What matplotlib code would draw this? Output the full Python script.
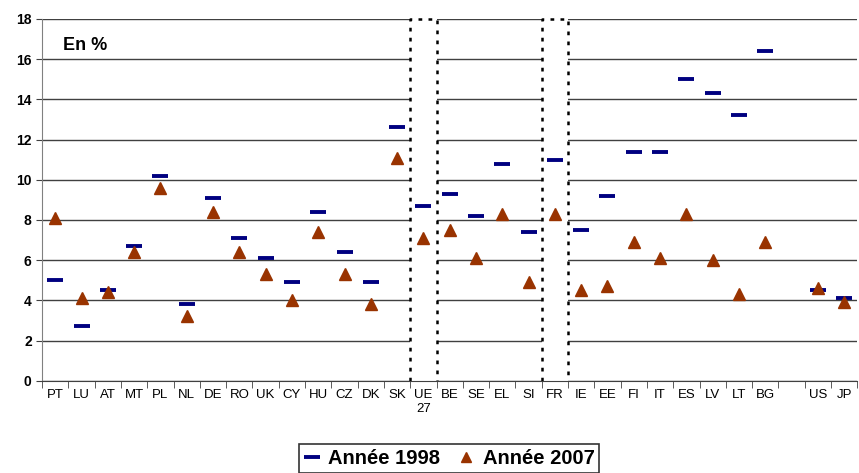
import matplotlib
matplotlib.use('Agg')
import matplotlib.pyplot as plt
from matplotlib.patches import Rectangle
from matplotlib.lines import Line2D
import numpy as np

plt.rcParams['font.family'] = ['Liberation Sans', 'DejaVu Sans']

# données
pays = ['PT', 'LU', 'AT', 'MT', 'PL', 'NL', 'DE', 'RO', 'UK', 'CY', 'HU', 'CZ', 'DK', 'SK',
        'UE\n27', 'BE', 'SE', 'EL', 'SI', 'FR', 'IE', 'EE', 'FI', 'IT', 'ES', 'LV', 'LT', 'BG',
        '', 'US', 'JP']
annee_1998 = [5.0, 2.7, 4.5, 6.7, 10.2, 3.8, 9.1, 7.1, 6.1, 4.9, 8.4, 6.4, 4.9, 12.6,
              8.7, 9.3, 8.2, 10.8, 7.4, 11.0, 7.5, 9.2, 11.4, 11.4, 15.0, 14.3, 13.2, 16.4,
              np.nan, 4.5, 4.1]
annee_2007 = [8.1, 4.1, 4.4, 6.4, 9.6, 3.2, 8.4, 6.4, 5.3, 4.0, 7.4, 5.3, 3.8, 11.1,
              7.1, 7.5, 6.1, 8.3, 4.9, 8.3, 4.5, 4.7, 6.9, 6.1, 8.3, 6.0, 4.3, 6.9,
              np.nan, 4.6, 3.9]
encadres = ['UE\n27', 'FR']

bleu = '#000080'
brun = '#993300'

fig = plt.figure(figsize=(8.59, 4.73), dpi=100)
ax = fig.add_axes([0.049, 0.195, 0.949, 0.765])

x = np.arange(len(pays))
ax.set_xlim(-0.5, len(pays) - 0.5)
ax.set_ylim(0, 18)
ax.set_yticks(np.arange(0, 19, 2))
ax.yaxis.grid(True, color='#404040', linewidth=1)
ax.set_axisbelow(True)

# colonnes encadrées (UE27, FR) : fond blanc + trois côtés en pointillés
for nom in encadres:
    i = pays.index(nom)
    ax.add_patch(Rectangle((i - 0.5, 0), 1, 18, facecolor='white', edgecolor='none', zorder=2))
    ax.plot([i - 0.5, i - 0.5, i + 0.5, i + 0.5], [0, 18, 18, 0], color='black',
            linestyle=(0, (1.5, 2.5)), linewidth=1.8, zorder=3, clip_on=False)

ax.plot(x, annee_1998, linestyle='none', marker='_', markersize=12, markeredgewidth=2.8,
        color=bleu, zorder=4)
ax.plot(x, annee_2007, linestyle='none', marker='^', markersize=8, color=brun, zorder=5)

ax.set_xticks(x)
ax.set_xticklabels(pays, fontsize=9.5)
ax.tick_params(axis='x', which='major', length=0, pad=6)
ax.set_xticks(np.arange(-0.5, len(pays), 1), minor=True)
ax.tick_params(axis='x', which='minor', length=5, color='#404040', direction='out')
ax.tick_params(axis='y', labelsize=10, length=4, color='#404040')
for lab in ax.get_yticklabels():
    lab.set_fontweight('bold')

for s in ['top', 'right']:
    ax.spines[s].set_visible(False)
ax.spines['left'].set_color('#808080')
ax.spines['bottom'].set_color('#404040')
ax.spines['bottom'].set_zorder(6)

ax.text(0.3, 16.7, 'En %', fontsize=13, fontweight='bold', ha='left', va='center')

handles = [
    Line2D([], [], linestyle='none', marker='_', markersize=12, markeredgewidth=2.8, color=bleu),
    Line2D([], [], linestyle='none', marker='^', markersize=7, color=brun),
]
leg = fig.legend(handles, ['Année 1998', 'Année 2007'], loc='lower center',
                 bbox_to_anchor=(0.523, 0.0), ncol=2, frameon=True, fancybox=False,
                 prop={'weight': 'bold', 'size': 14.5}, handlelength=0.8, handletextpad=0.4,
                 columnspacing=0.9, borderpad=0.25, borderaxespad=0)
leg.get_frame().set_edgecolor('black')
leg.get_frame().set_linewidth(1.2)

fig.savefig('out.png', dpi=100)
